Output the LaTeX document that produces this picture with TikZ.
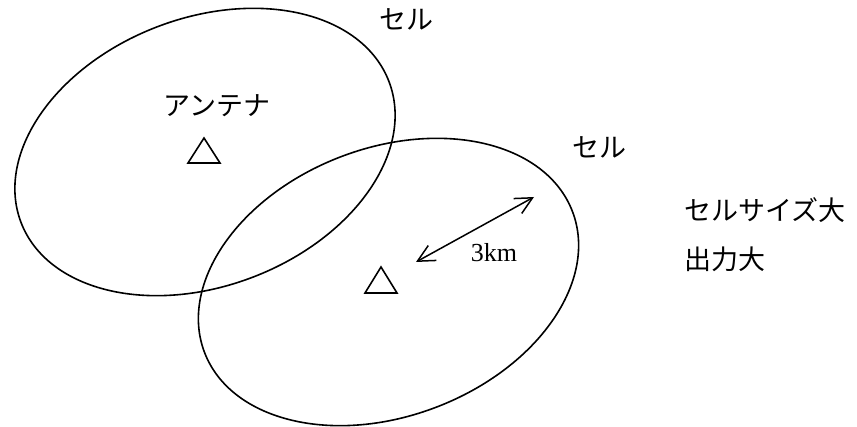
\documentclass[tikz,border=0pt]{standalone}
\usepackage{fontspec}
\setmainfont{Liberation Serif}
\newfontfamily\jp{Noto Sans CJK JP}
\usetikzlibrary{arrows.meta}
\begin{document}
\begin{tikzpicture}[x=1pt,y=-1pt,
  cell/.style={line width=1.6pt},
  jplabel/.style={font=\jp\fontsize{27}{32}\selectfont, inner sep=0pt},
  antenna/.style={line width=1.6pt, line join=miter},
  dist/.style={line width=1.5pt, {Straight Barb[length=17pt,width=17pt]}-{Straight Barb[length=17pt,width=17pt]}}]
\useasboundingbox (0,0) rectangle (857,427);
% cells
\coordinate (c1) at (205,152);
\coordinate (c2) at (388.5,282);
\draw[cell, rotate around={21:(c1)}] (c1) ellipse [x radius=197pt, y radius=134pt];
\draw[cell, rotate around={21:(c2)}] (c2) ellipse [x radius=197pt, y radius=134pt];
\fill[white] (362,39) circle [radius=1.8pt];
% antennas
\coordinate (a1) at (204,138);
\coordinate (a1l) at (188,163);
\coordinate (a1r) at (220,163);
\draw[antenna] (a1) -- (a1l) -- (a1r) -- cycle;
\coordinate (a2) at (381,267);
\coordinate (a2l) at (365,293);
\coordinate (a2r) at (397,293);
\draw[antenna] (a2) -- (a2l) -- (a2r) -- cycle;
% distance arrow
\coordinate (p) at (416,262);
\coordinate (q) at (534,197);
\draw[dist] (p) -- (q);
\node[font=\fontsize{26}{30}\selectfont, inner sep=0pt] (km) at (494,253) {3km};
% labels
\node[jplabel] (cell1) at (406,19) {セル};
\node[jplabel] (ant) at (217,106) {アンテナ};
\node[jplabel] (cell2) at (599,147) {セル};
\node[jplabel, anchor=west] (size) at (684,210) {セルサイズ大};
\node[jplabel, anchor=west] (power) at (684,259) {出力大};
\end{tikzpicture}
\end{document}
